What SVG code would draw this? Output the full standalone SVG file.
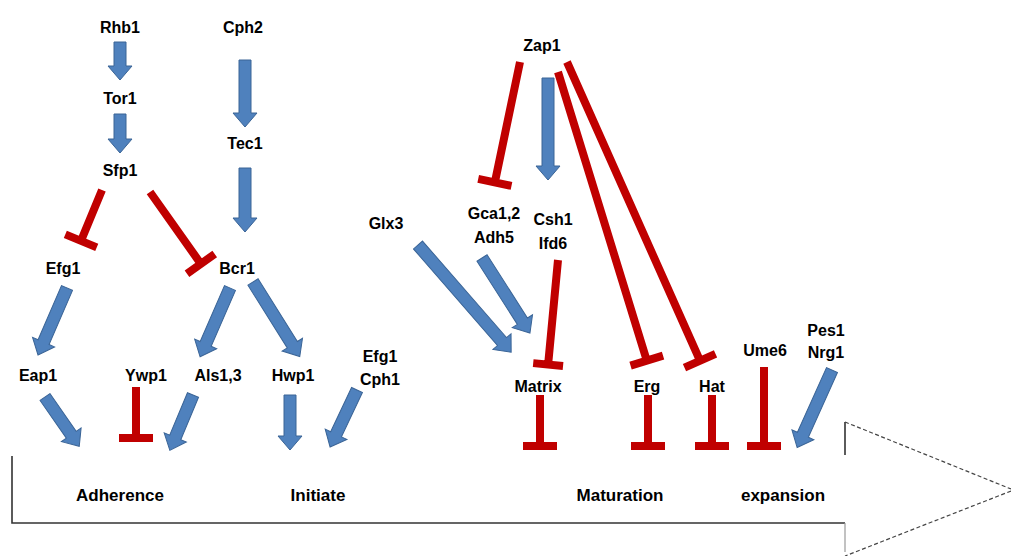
<svg xmlns="http://www.w3.org/2000/svg" width="1011" height="556" viewBox="0 0 1011 556">
<style>
.t{font-family:"Liberation Sans",Arial,sans-serif;font-weight:bold;font-size:16px;fill:#000;text-anchor:middle}
.s{font-size:17px}
.ba{fill:#4F81BD;stroke:#3A6496;stroke-width:1}
.inh{stroke:#C00000;stroke-width:8;fill:none;stroke-linecap:butt}
.frame{stroke:#333;stroke-width:1.6;fill:none}
.dash{stroke:#444;stroke-width:1.2;fill:none;stroke-dasharray:4 2.5}
</style>
<rect width="1011" height="556" fill="#fff"/>
<g id="timeline">
<path class="frame" d="M12,456 V523 H845"/>
<path class="frame" d="M845,455 V422"/>
<path d="M845,523 V552" stroke="#999" stroke-width="1.2"/>
<path class="dash" d="M845,422 L1011,489"/>
<path class="dash" d="M1011,491 L845,556"/>
</g>
<g id="connectors">
<g transform="translate(120,42) rotate(90)"><polygon class="ba" points="0,-6 24,-6 24,-12 38,0 24,12 24,6 0,6"/></g>
<g transform="translate(120,114) rotate(90)"><polygon class="ba" points="0,-6 25,-6 25,-12 39,0 25,12 25,6 0,6"/></g>
<g transform="translate(245,60) rotate(90)"><polygon class="ba" points="0,-6 53,-6 53,-12 67,0 53,12 53,6 0,6"/></g>
<g transform="translate(245,168) rotate(90)"><polygon class="ba" points="0,-6 50,-6 50,-12 64,0 50,12 50,6 0,6"/></g>
<g transform="translate(67,288) rotate(113.4)"><polygon class="ba" points="0,-6 59,-6 59,-12 73,0 59,12 59,6 0,6"/></g>
<g transform="translate(230,288) rotate(113.5)"><polygon class="ba" points="0,-6 61,-6 61,-12 75,0 61,12 61,6 0,6"/></g>
<g transform="translate(253,282) rotate(57.9)"><polygon class="ba" points="0,-6 74,-6 74,-12 88,0 74,12 74,6 0,6"/></g>
<g transform="translate(45,397) rotate(55.2)"><polygon class="ba" points="0,-6 46,-6 46,-12 60,0 46,12 46,6 0,6"/></g>
<g transform="translate(193,395) rotate(112.7)"><polygon class="ba" points="0,-6 46,-6 46,-12 60,0 46,12 46,6 0,6"/></g>
<g transform="translate(290,395) rotate(90)"><polygon class="ba" points="0,-6 41,-6 41,-12 55,0 41,12 41,6 0,6"/></g>
<g transform="translate(357,390) rotate(115.3)"><polygon class="ba" points="0,-6 49,-6 49,-12 63,0 49,12 49,6 0,6"/></g>
<g transform="translate(418,245) rotate(49)"><polygon class="ba" points="0,-6 128,-6 128,-12 142,0 128,12 128,6 0,6"/></g>
<g transform="translate(482,258) rotate(57.4)"><polygon class="ba" points="0,-6 75,-6 75,-12 89,0 75,12 75,6 0,6"/></g>
<g transform="translate(548,78) rotate(90)"><polygon class="ba" points="0,-6 88,-6 88,-12 102,0 88,12 88,6 0,6"/></g>
<g transform="translate(832,370) rotate(114.2)"><polygon class="ba" points="0,-6 71,-6 71,-12 85,0 71,12 71,6 0,6"/></g>

<g transform="translate(102,190) rotate(112.4)"><path class="inh" d="M0,0 H55 M55,-17 V17"/></g>
<g transform="translate(150,192) rotate(54.7)"><path class="inh" d="M0,0 H88 M88,-17 V17"/></g>
<g transform="translate(136,387) rotate(90)"><path class="inh" d="M0,0 H51 M51,-17 V17"/></g>
<g transform="translate(520,62) rotate(101.8)"><path class="inh" d="M0,0 H123 M123,-17 V17"/></g>
<g transform="translate(558,72) rotate(72.9)"><path class="inh" d="M0,0 H302 M302,-17 V17"/></g>
<g transform="translate(567,62) rotate(66)"><path class="inh" d="M0,0 H327 M327,-17 V17"/></g>
<g transform="translate(558,260) rotate(95.4)"><path class="inh" d="M0,0 H105 M105,-15 V15"/></g>
<g transform="translate(540,395) rotate(90)"><path class="inh" d="M0,0 H51 M51,-17 V17"/></g>
<g transform="translate(648,395) rotate(90)"><path class="inh" d="M0,0 H51 M51,-17 V17"/></g>
<g transform="translate(712,395) rotate(90)"><path class="inh" d="M0,0 H51 M51,-17 V17"/></g>
<g transform="translate(764,367) rotate(90)"><path class="inh" d="M0,0 H79 M79,-17 V17"/></g>
</g>
<g id="n-rhb1"><text class="t" x="120" y="33">Rhb1</text></g>
<g id="n-tor1"><text class="t" x="120" y="104">Tor1</text></g>
<g id="n-sfp1"><text class="t" x="120" y="176">Sfp1</text></g>
<g id="n-cph2"><text class="t" x="243" y="33">Cph2</text></g>
<g id="n-tec1"><text class="t" x="245" y="149">Tec1</text></g>
<g id="n-efg1"><text class="t" x="63" y="274">Efg1</text></g>
<g id="n-bcr1"><text class="t" x="237" y="274">Bcr1</text></g>
<g id="n-eap1"><text class="t" x="38" y="381">Eap1</text></g>
<g id="n-ywp1"><text class="t" x="146" y="381">Ywp1</text></g>
<g id="n-als13"><text class="t" x="218" y="381">Als1,3</text></g>
<g id="n-hwp1"><text class="t" x="293" y="381">Hwp1</text></g>
<g id="n-efg1cph1"><text class="t" x="380" y="362">Efg1</text><text class="t" x="380" y="385">Cph1</text></g>
<g id="n-zap1"><text class="t" x="542" y="51">Zap1</text></g>
<g id="n-glx3"><text class="t" x="386" y="229">Glx3</text></g>
<g id="n-gca"><text class="t" x="494" y="219">Gca1,2</text><text class="t" x="494" y="243">Adh5</text></g>
<g id="n-csh1"><text class="t" x="553" y="225">Csh1</text><text class="t" x="553" y="249">Ifd6</text></g>
<g id="n-matrix"><text class="t" x="538" y="392">Matrix</text></g>
<g id="n-erg"><text class="t" x="647" y="392">Erg</text></g>
<g id="n-hat"><text class="t" x="712" y="392">Hat</text></g>
<g id="n-ume6"><text class="t" x="765" y="356">Ume6</text></g>
<g id="n-pes1"><text class="t" x="826" y="336">Pes1</text><text class="t" x="826" y="358">Nrg1</text></g>
<g id="stages">
<text class="t s" x="120" y="501">Adherence</text>
<text class="t s" x="318" y="501">Initiate</text>
<text class="t s" x="620" y="501">Maturation</text>
<text class="t s" x="783" y="501">expansion</text>
</g>
</svg>
